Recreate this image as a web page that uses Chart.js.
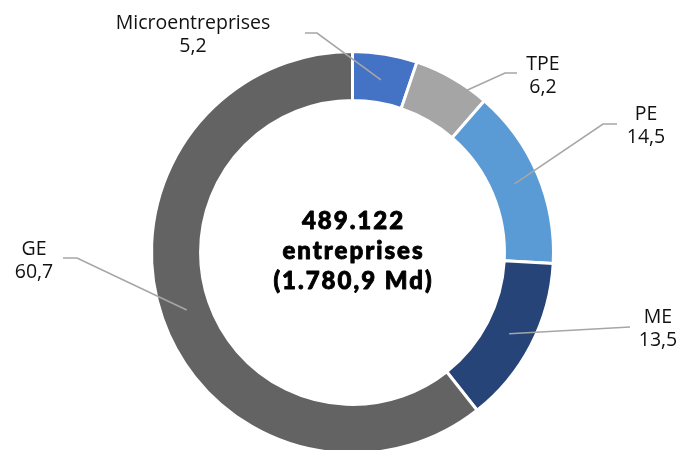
<!DOCTYPE html>
<html><head><meta charset="utf-8">
<script src="https://cdn.jsdelivr.net/npm/chart.js@4.4.0/dist/chart.umd.min.js"></script>
<style>
html,body{margin:0;padding:0;background:#fff;overflow:hidden;width:682px;height:450px}
#wrap{width:682px;height:462px;position:relative}
</style>
</head><body>
<div id="wrap"><canvas id="c" width="682" height="462"></canvas></div>
<script>
// ---- data ----
const categories = ['Microentreprises', 'TPE', 'PE', 'ME', 'GE'];
const values = [5.2, 6.2, 14.5, 13.5, 60.7];
const colors = ['#4472C4', '#A5A5A5', '#5B9BD5', '#264478', '#636363'];
const centerLines = ['489.122', 'entreprises', '(1.780,9 Md)'];

const fmt = v => v.toFixed(1).replace('.', ',');

// ---- label layout (annotation placement) ----
const labelLayout = [
  { tx: 193, base: 29,  pts: [[305, 33], [317, 33]], af: 0.5,  rf: 0.47 },
  { tx: 543, base: 70,  pts: [[517, 73], [505, 73]], af: 0.74, rf: 0.95 },
  { tx: 646, base: 120, pts: [[617, 124], [603, 124]], af: 0.5, rf: 0.49 },
  { tx: 658, base: 323, pts: [[630, 327]], af: 0.5, rf: 0.5 },
  { tx: 34,  base: 255, pts: [[63, 258], [77, 258]], af: 0.5, rf: 0.48 }
];

const labelsPlugin = {
  id: 'labelsPlugin',
  afterDraw(chart) {
    const ctx = chart.ctx;
    const meta = chart.getDatasetMeta(0);
    ctx.save();
    meta.data.forEach((arc, i) => {
      const p = arc.getProps(['x', 'y', 'startAngle', 'endAngle', 'innerRadius', 'outerRadius'], true);
      const L = labelLayout[i];
      const a = p.startAngle + L.af * (p.endAngle - p.startAngle);
      const r = p.innerRadius + L.rf * (p.outerRadius - p.innerRadius);
      const ex = p.x + Math.cos(a) * r, ey = p.y + Math.sin(a) * r;
      ctx.beginPath();
      ctx.strokeStyle = '#A6A6A6';
      ctx.lineWidth = 1.6;
      ctx.moveTo(L.pts[0][0], L.pts[0][1]);
      for (let k = 1; k < L.pts.length; k++) ctx.lineTo(L.pts[k][0], L.pts[k][1]);
      ctx.lineTo(ex, ey);
      ctx.stroke();
      ctx.fillStyle = '#111111';
      ctx.font = '19.5px "Open Sans"';
      ctx.textAlign = 'center';
      ctx.textBaseline = 'alphabetic';
      ctx.fillText(categories[i], L.tx, L.base);
      ctx.fillText(fmt(values[i]), L.tx, L.base + 22.5);
    });
    // center text
    const c = meta.data[0];
    ctx.fillStyle = '#000000';
    ctx.strokeStyle = '#000000';
    ctx.lineWidth = 0.9;
    ctx.lineJoin = 'round';
    ctx.font = '900 24px Lato';
    ctx.textAlign = 'center';
    ctx.textBaseline = 'alphabetic';
    try { ctx.letterSpacing = '2px'; } catch (e) {}
    const offs = [-24, 6, 36];
    centerLines.forEach((t, k) => {
      ctx.fillText(t, c.x + 1, c.y + offs[k]);
      ctx.strokeText(t, c.x + 1, c.y + offs[k]);
    });
    ctx.restore();
  }
};

new Chart(document.getElementById('c'), {
  type: 'doughnut',
  data: {
    labels: categories,
    datasets: [{
      data: values,
      backgroundColor: colors,
      borderColor: '#FFFFFF',
      borderWidth: 3,
      hoverOffset: 0
    }]
  },
  options: {
    responsive: false,
    animation: false,
    devicePixelRatio: 1,
    radius: 201,
    cutout: '75.6%',
    layout: { padding: { left: 153, right: 130, top: 53, bottom: 10 } },
    plugins: { legend: { display: false }, tooltip: { enabled: false } },
    events: []
  },
  plugins: [labelsPlugin]
});
</script>
</body></html>
